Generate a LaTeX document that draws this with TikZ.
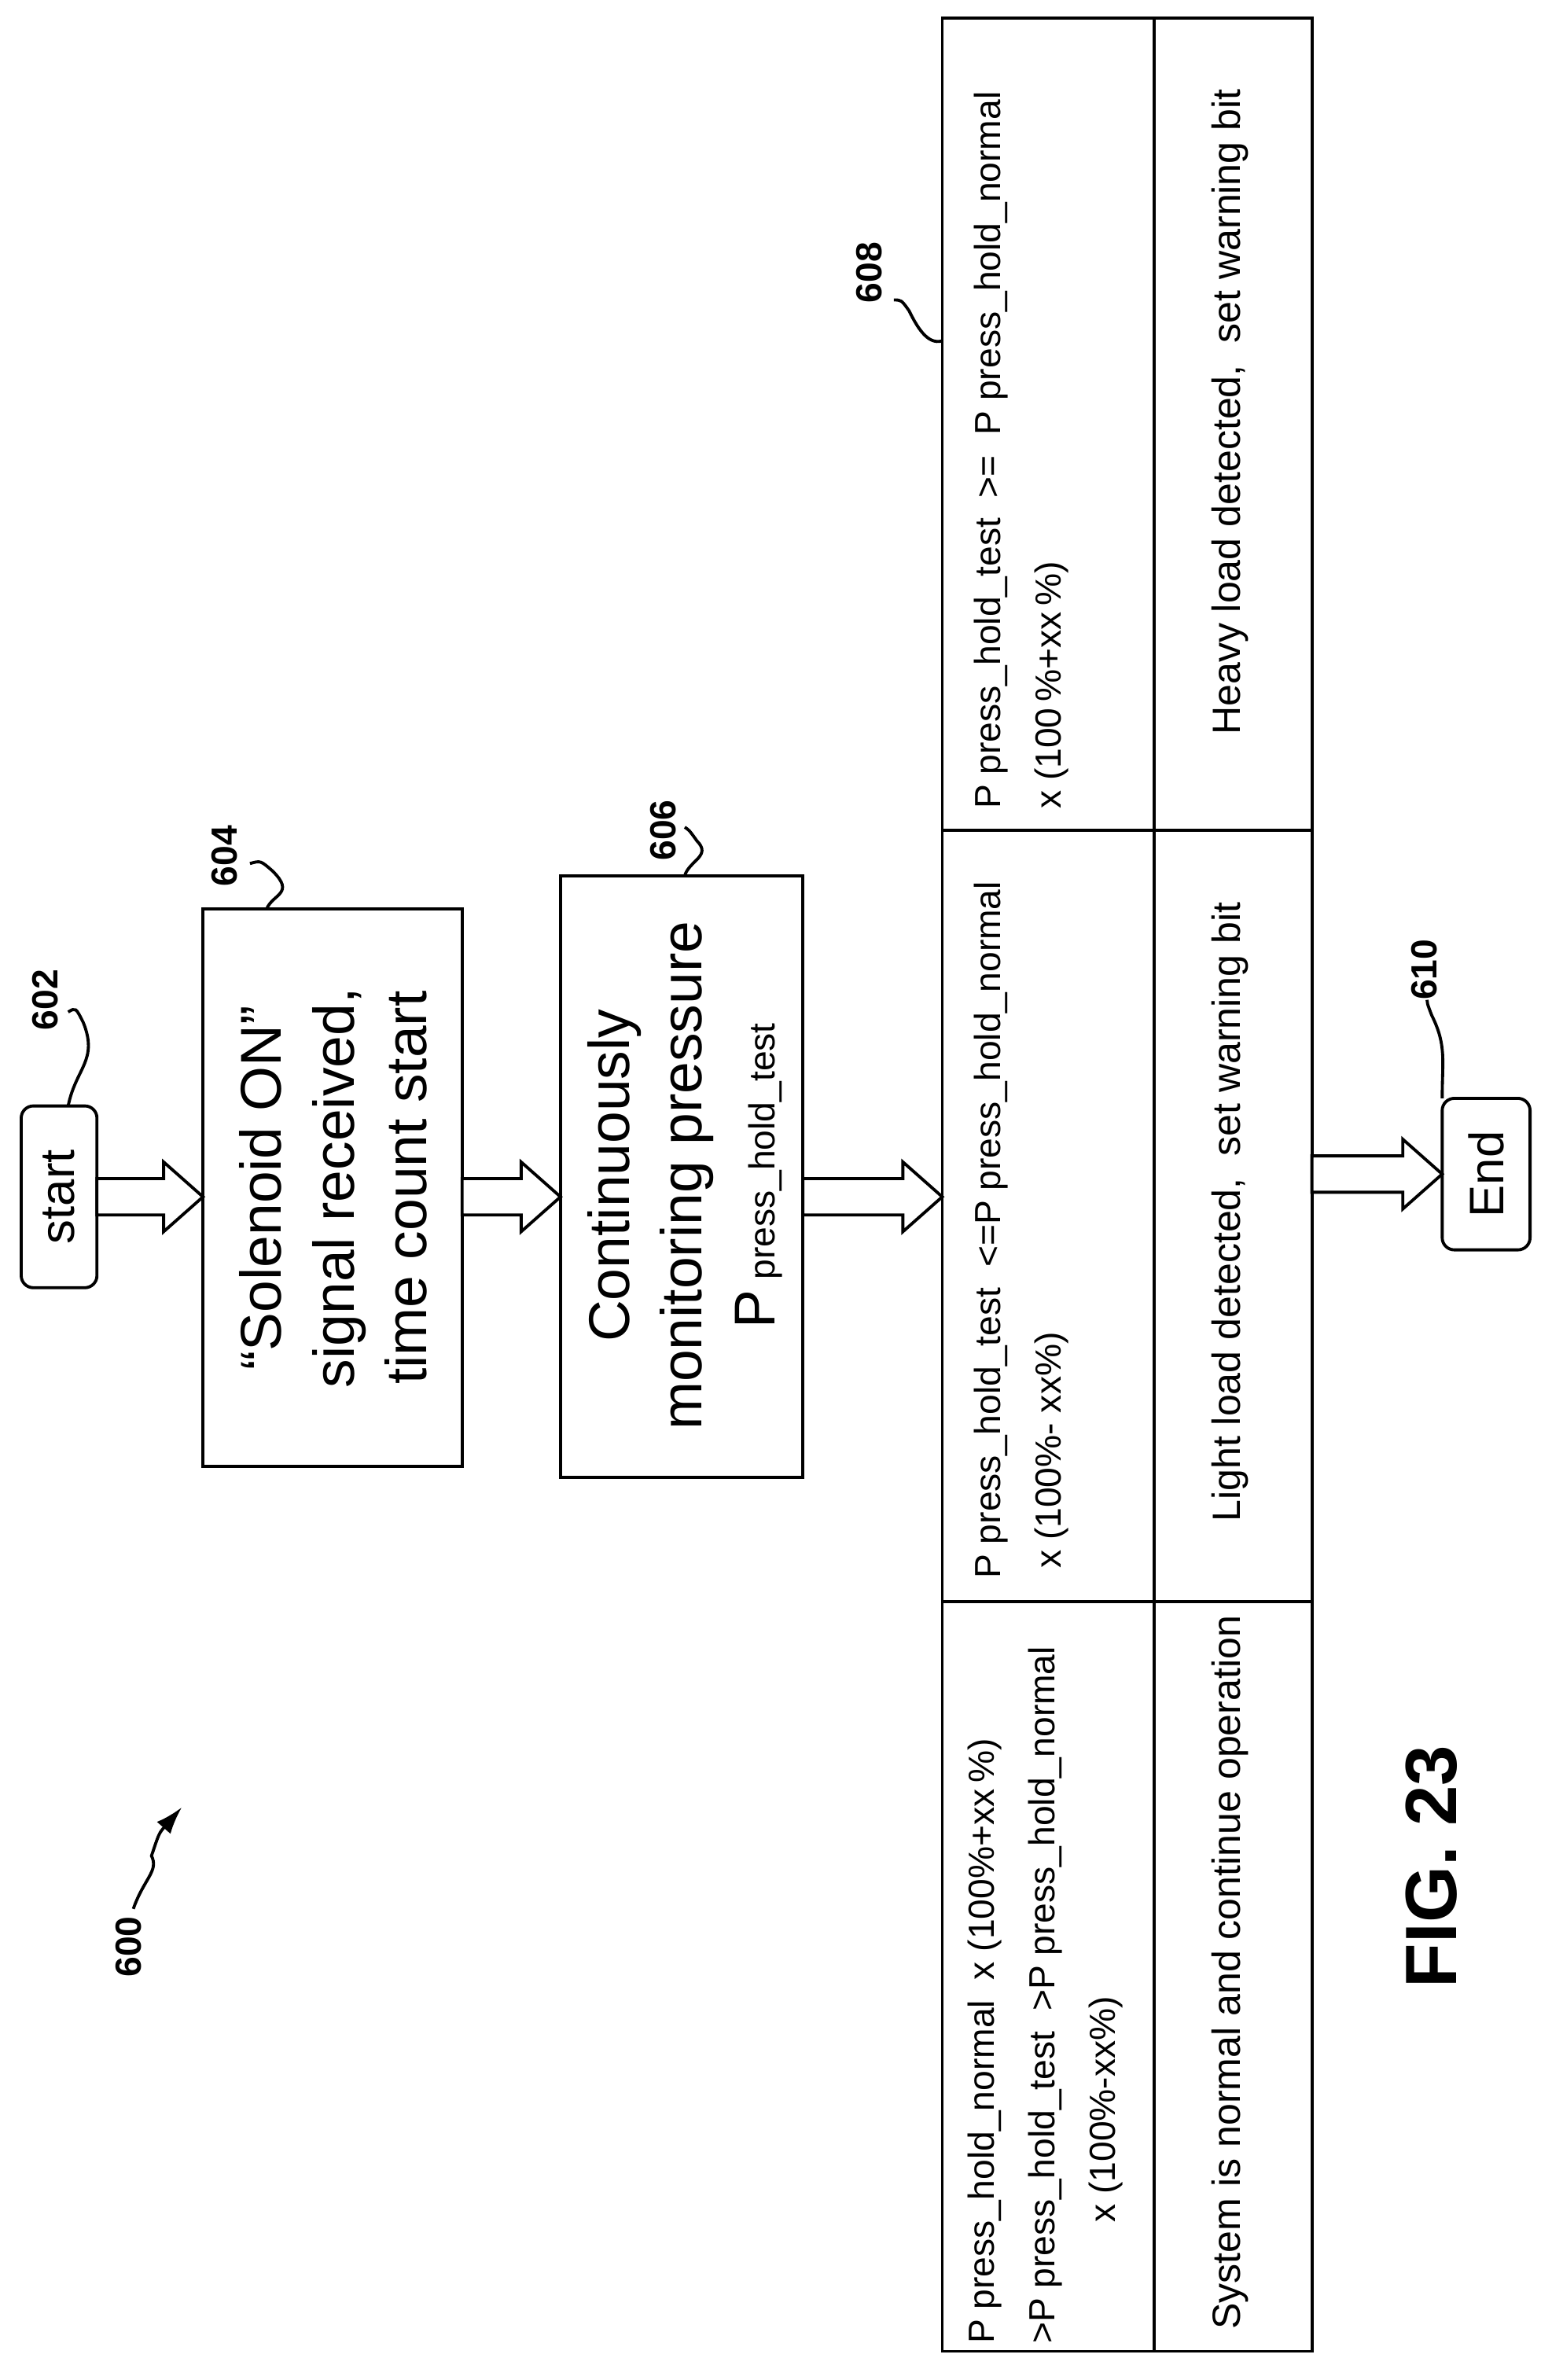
\documentclass[tikz,border=0pt]{standalone}
\usepackage{fontspec}
\setmainfont{Liberation Sans}
\usetikzlibrary{arrows.meta}
\begin{document}
\begin{tikzpicture}[x=1pt,y=1pt,line width=2pt,
 rt/.style={rotate=90,font=\fontsize{38}{48}\selectfont,align=center},
 ct/.style={rotate=90,font=\fontsize{24}{40}\selectfont,align=left,anchor=north west,inner sep=0pt},
 res/.style={rotate=90,font=\fontsize{26}{30}\selectfont},
 num/.style={font=\bfseries\fontsize{24}{28}\selectfont,rotate=90}]
\useasboundingbox (0,0) rectangle (1024,-1571);
\newcommand\harrow[3]{\draw[line width=2pt,fill=white] (#1,-#3+12) -- (#2-26,-#3+12) -- (#2-26,-#3+23) -- (#2,-#3) -- (#2-26,-#3-23) -- (#2-26,-#3-12) -- (#1,-#3-12) -- cycle;}
% start
\draw[rounded corners=8pt] (14,-730) rectangle (64,-850);
\node[rt,font=\fontsize{32}{36}\selectfont] (start) at (39,-790) {start};
\harrow{64}{134}{790}
% 604
\draw (134,-600) rectangle (305,-968);
\node[rt] (b604) at (220,-784) {“Solenoid ON”\\signal received,\\time count start};
\harrow{305}{370}{790}
% 606
\draw (370,-578) rectangle (530,-975);
\node[rt] (b606) at (452,-776) {Continuously\\monitoring pressure\\P{\fontsize{24}{28}\selectfont\ press\_hold\_test}};
\harrow{530}{622}{790}
% table
\draw (622,-12) rectangle (866,-1552);
\draw (762,-12) -- (762,-1552);
\draw (622,-548) -- (866,-548);
\draw (622,-1057) -- (866,-1057);
\node[ct] (c1) at (642,-535) {P press\_hold\_test\ \ >=\ \ P press\_hold\_normal\\x (100\,\%+xx\,\%)};
\node[ct] (c2) at (642,-1043) {P press\_hold\_test\ \ <=P press\_hold\_normal\\\ x (100\%- xx\%)};
\node[ct] (c3) at (638,-1548) {P press\_hold\_normal\ \ x (100\%+xx\,\%)\\>P press\_hold\_test\ \ >P press\_hold\_normal\\\hspace{80pt}x (100\%-xx\%)};
\node[res] (r1) at (812,-272) {Heavy load detected,\ \ set warning bit};
\node[res] (r2) at (812,-800) {Light load detected,\ \ set warning bit};
\node[res] (r3) at (812,-1302) {System is normal and continue operation};
\harrow{866}{952}{775}
\draw[rounded corners=8pt] (952,-725) rectangle (1010,-825);
\node[rt,font=\fontsize{32}{36}\selectfont] (end) at (981,-775) {End};
% labels
\node[num] (n602) at (30,-660) {602};
\draw (45,-730) .. controls (50,-705) and (65,-700) .. (55,-675) .. controls (50,-665) .. (45,-668);
\node[num] (n604) at (148,-565) {604};
\draw (176,-600) .. controls (180,-590) and (195,-590) .. (180,-575) .. controls (172,-568) .. (165,-570);
\node[num] (n606) at (438,-548) {606};
\draw (452,-578) .. controls (455,-568) and (470,-565) .. (460,-555) .. controls (455,-548) .. (452,-546);
\node[num] (n608) at (574,-180) {608};
\draw (622,-225) .. controls (612,-228) and (605,-215) .. (600,-205) .. controls (595,-198) .. (590,-198);
\node[num] (n610) at (940,-640) {610};
\draw (952,-725) .. controls (952,-700) and (955,-690) .. (945,-670) .. controls (942,-662) .. (942,-660);
\node[num] (n600) at (85,-1285) {600};
\coordinate (a600) at (120,-1193);
\draw[-{Latex[length=18pt,width=12pt]}] (88,-1260) .. controls (95,-1240) and (105,-1235) .. (100,-1225) .. controls (105,-1210) .. (a600);
\node[rotate=90,font=\bfseries\fontsize{48}{52}\selectfont] (fig) at (945,-1232) {FIG. 23};
\end{tikzpicture}
\end{document}
